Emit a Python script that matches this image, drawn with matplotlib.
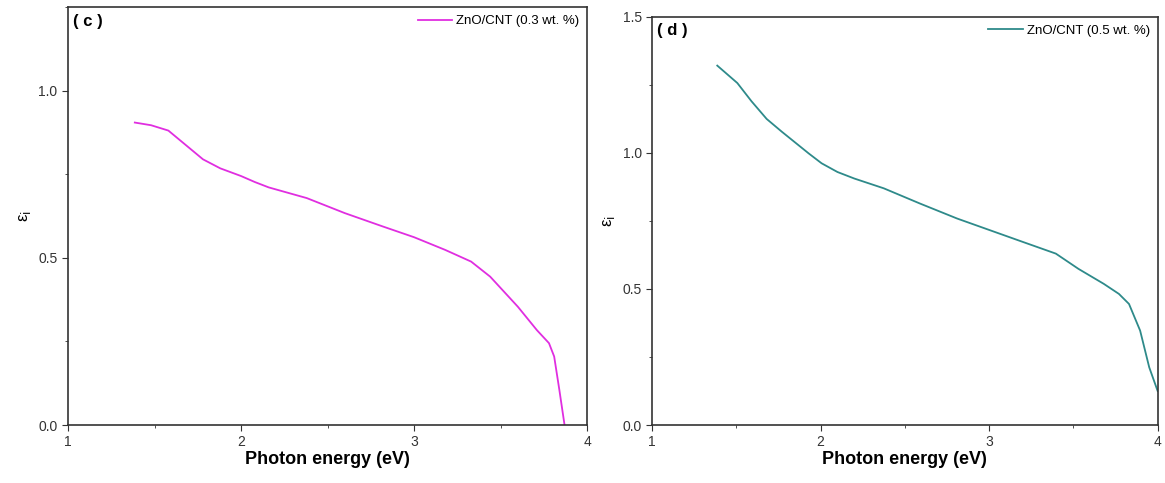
import matplotlib.pyplot as plt
from matplotlib.ticker import MultipleLocator

plt.rcParams['font.family'] = ['Liberation Sans', 'DejaVu Sans']

# panel (c): ZnO/CNT 0.3 wt. %
energy_c = [1.386, 1.48, 1.58, 1.68, 1.78, 1.88, 2.0, 2.08, 2.16, 2.38, 2.60,
            2.82, 3.0, 3.18, 3.33, 3.44, 3.60, 3.71, 3.78, 3.81, 3.84, 3.87]
eps_c = [0.905, 0.897, 0.881, 0.838, 0.795, 0.768, 0.745, 0.727, 0.711, 0.679,
         0.634, 0.594, 0.562, 0.524, 0.489, 0.444, 0.354, 0.284, 0.245, 0.205,
         0.105, 0.0]

# panel (d): ZnO/CNT 0.5 wt. %
energy_d = [1.387, 1.506, 1.59, 1.68, 1.77, 1.854, 1.93, 2.006, 2.10, 2.20,
            2.375, 2.59, 2.81, 3.005, 3.20, 3.396, 3.53, 3.68, 3.77, 3.83,
            3.896, 3.95, 4.0]
eps_d = [1.321, 1.257, 1.19, 1.125, 1.078, 1.036, 0.998, 0.962, 0.930, 0.906,
         0.870, 0.814, 0.759, 0.716, 0.673, 0.630, 0.574, 0.519, 0.482, 0.445,
         0.347, 0.212, 0.125]


def style_axes(ax, ymax, label, color, x, y, tag):
    ax.plot(x, y, color=color, lw=1.3, label=label)
    ax.set_xlim(1, 4)
    ax.set_ylim(0, ymax)
    ax.xaxis.set_major_locator(MultipleLocator(1))
    ax.xaxis.set_minor_locator(MultipleLocator(0.5))
    ax.yaxis.set_major_locator(MultipleLocator(0.5))
    ax.yaxis.set_minor_locator(MultipleLocator(0.25))
    ax.yaxis.set_major_formatter(plt.FormatStrFormatter('%.1f'))
    ax.tick_params(which='both', direction='out', labelsize=10, colors='#333333')
    ax.tick_params(which='major', length=4)
    ax.tick_params(which='minor', length=2.5)
    for s in ax.spines.values():
        s.set_linewidth(1.2)
        s.set_color('#333333')
    ax.set_xlabel('Photon energy (eV)', fontsize=13, fontweight='bold', labelpad=1)
    ax.set_ylabel('ε$_\\mathrm{i}$', fontsize=12, labelpad=4)
    ax.text(0.01, 0.985, tag, transform=ax.transAxes, fontsize=12,
            fontweight='bold', va='top', ha='left')
    ax.legend(loc='upper right', frameon=False, fontsize=9.5, handlelength=2.6,
              borderaxespad=0.2, handletextpad=0.3)


fig = plt.figure(figsize=(11.65, 4.83), dpi=100)
ax_c = fig.add_axes([0.0584, 0.120, 0.4455, 0.865])
ax_d = fig.add_axes([0.5597, 0.120, 0.434, 0.845])

style_axes(ax_c, 1.25, 'ZnO/CNT (0.3 wt. %)', '#e02ee0', energy_c, eps_c, '( c )')
style_axes(ax_d, 1.5, 'ZnO/CNT (0.5 wt. %)', '#2e8a8a', energy_d, eps_d, '( d )')

fig.savefig('out.png', dpi=100)
